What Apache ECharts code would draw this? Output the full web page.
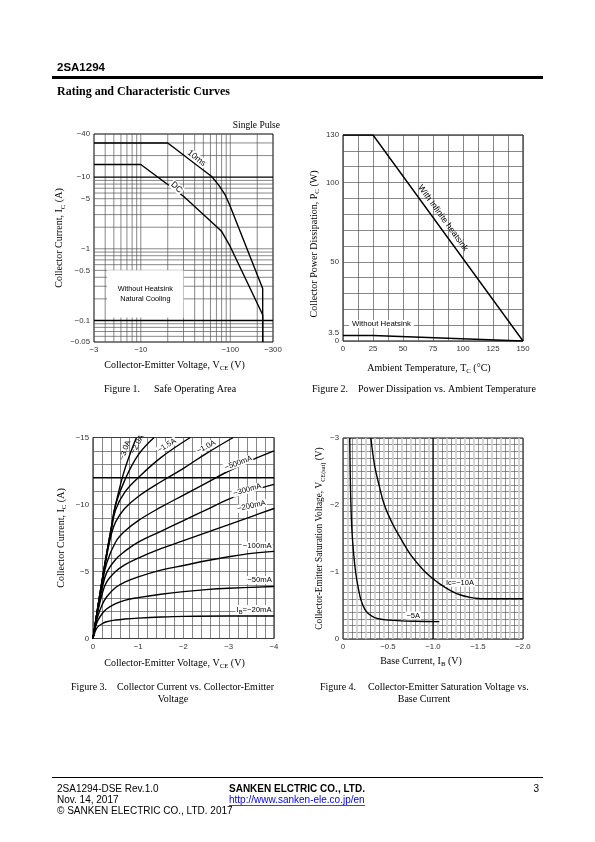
<!DOCTYPE html>
<html>
<head>
<meta charset="utf-8">
<script src="https://cdn.jsdelivr.net/npm/echarts@6.0.0/dist/echarts.min.js"></script>
<style>
html,body{margin:0;padding:0;background:#fff;}
#chart{width:595px;height:842px;}
</style>
</head>
<body>
<div id="chart"></div>
<script>
// ---------------- Figure 1: Safe Operating Area (magnitudes; axis labels show the minus sign) ----------------
const soaTicksX = [3, 10, 100, 300];
const soaTicksY = [0.05, 0.1, 0.5, 1, 5, 10, 40];
const soaGridX = [4, 5, 6, 7, 8, 9, 10, 20, 30, 40, 50, 60, 70, 80, 90, 100, 200];
const soaGridY = [0.06, 0.07, 0.08, 0.09, 0.2, 0.3, 0.4, 0.5, 0.6, 0.7, 0.8, 0.9, 1, 2, 3, 4, 5, 6, 7, 8, 9, 20, 30];
const soaGridYBold = [0.1, 10];
const soa10msVce = [3, 20, 62, 75, 88, 100, 230, 230];
const soa10msIc  = [30, 30, 10.2, 7.6, 5.6, 3.9, 0.28, 0.05];
const soaDcVce = [3, 10, 30, 70, 80, 100, 230, 230];
const soaDcIc  = [15, 15, 5.4, 2.05, 1.75, 1.07, 0.12, 0.05];

// ---------------- Figure 2: Power dissipation vs ambient temperature ----------------
const pdTicksX = [0, 25, 50, 75, 100, 125, 150];
const pdTicksY = [0, 3.5, 50, 100, 130];
const pdTemp = [0, 25, 150];
const pdInfinite = [130, 130, 0];
const pdNoSink = [3.5, 3.5, 0];

// ---------------- Figure 3: IC vs VCE  ([VCE (V), IC (A)]) ----------------
const ivTicksX = [0, -1, -2, -3, -4];
const ivTicksY = [0, -5, -10, -15];
const ib20mA = [[0,0],[-0.05,-0.55],[-0.1,-0.85],[-0.2,-1.1],[-0.3,-1.25],[-0.5,-1.38],[-0.7,-1.45],[-1,-1.52],[-1.5,-1.6],[-2,-1.65],[-3,-1.68],[-4,-1.68]];
const ib50mA = [[0,0],[-0.05,-0.8],[-0.1,-1.3],[-0.2,-1.85],[-0.3,-2.2],[-0.5,-2.6],[-0.7,-2.85],[-1,-3.05],[-1.5,-3.3],[-2,-3.5],[-2.5,-3.65],[-3,-3.75],[-4,-3.88]];
const ib100mA = [[0,0],[-0.05,-0.9],[-0.1,-1.6],[-0.2,-2.5],[-0.3,-3.1],[-0.5,-3.8],[-0.7,-4.2],[-1,-4.6],[-1.5,-5.1],[-2,-5.45],[-2.5,-5.8],[-3,-6.1],[-3.5,-6.35],[-4,-6.5]];
const ib200mA = [[0,0],[-0.05,-1.0],[-0.1,-1.9],[-0.2,-3.3],[-0.3,-4.2],[-0.5,-5.0],[-0.7,-5.5],[-1,-6.0],[-1.5,-6.7],[-2,-7.3],[-2.5,-7.9],[-3,-8.5],[-3.5,-9.1],[-4,-9.7]];
const ib300mA = [[0,0],[-0.05,-1.05],[-0.1,-2.0],[-0.2,-3.7],[-0.3,-4.9],[-0.5,-5.9],[-0.7,-6.5],[-1,-7.2],[-1.5,-8.0],[-2,-8.8],[-2.5,-9.6],[-3,-10.4],[-3.5,-11.0],[-4,-11.5]];
const ib500mA = [[0,0],[-0.05,-1.1],[-0.1,-2.1],[-0.2,-4.0],[-0.3,-5.6],[-0.5,-7.2],[-0.7,-8.0],[-1,-8.8],[-1.5,-9.8],[-2,-10.7],[-2.5,-11.6],[-3,-12.5],[-3.5,-13.3],[-4,-14.0]];
const ib1000mA = [[0,0],[-0.05,-1.1],[-0.1,-2.2],[-0.2,-4.2],[-0.3,-6.1],[-0.4,-7.7],[-0.5,-8.7],[-0.7,-9.7],[-1,-10.6],[-1.5,-11.7],[-2,-12.7],[-2.5,-13.8],[-3.1,-15]];
const ib1500mA = [[0,0],[-0.05,-1.1],[-0.1,-2.2],[-0.2,-4.3],[-0.3,-6.3],[-0.4,-8.0],[-0.5,-9.6],[-0.7,-10.9],[-1,-12.0],[-1.5,-13.5],[-2.15,-15]];
const ib2000mA = [[0,0],[-0.05,-1.1],[-0.1,-2.2],[-0.2,-4.3],[-0.3,-6.3],[-0.4,-8.2],[-0.5,-10.0],[-0.7,-11.8],[-1,-13.7],[-1.35,-15]];
const ib3000mA = [[0,0],[-0.05,-1.1],[-0.1,-2.2],[-0.2,-4.3],[-0.3,-6.3],[-0.4,-8.2],[-0.5,-10.0],[-0.7,-12.6],[-0.96,-15]];
const ivBoldY = -12;

// ---------------- Figure 4: VCE(sat) vs IB  ([IB, VCE(sat) (V)]) ----------------
const satTicksX = [0, -0.5, -1, -1.5, -2];
const satTicksY = [0, -1, -2, -3];
const satBoldX = -1;
const ic10A = [[-0.31,-3.0],[-0.35,-2.6],[-0.4,-2.3],[-0.46,-2.0],[-0.55,-1.72],[-0.65,-1.48],[-0.75,-1.26],[-0.9,-1.02],[-1.0,-0.9],[-1.1,-0.8],[-1.2,-0.72],[-1.3,-0.66],[-1.4,-0.625],[-1.5,-0.605],[-1.7,-0.6],[-2.0,-0.6]];
const ic5A = [[-0.075,-3.0],[-0.08,-2.5],[-0.088,-2.0],[-0.1,-1.6],[-0.12,-1.25],[-0.14,-1.0],[-0.17,-0.76],[-0.2,-0.58],[-0.24,-0.45],[-0.28,-0.38],[-0.35,-0.32],[-0.45,-0.29],[-0.6,-0.275],[-0.8,-0.265],[-1.07,-0.26]];

// ---------------- styling helpers ----------------
const SERIF = '"Liberation Serif","Times New Roman",serif';
const SANS = '"Liberation Sans",Arial,Helvetica,sans-serif';
const MINUS = '\u2212';
const TICK_FS = 7.8;
const negLabel = v => { const n = +(+v).toPrecision(4); return n === 0 ? '0' : MINUS + Math.abs(n); };
const negFixed1 = v => { const n = +(+v).toPrecision(4); return n === 0 ? '0' : MINUS + Math.abs(n).toFixed(1); };
const pdYLabel = v => { const n = +(+v).toPrecision(4); return n === 3.5 ? '{u|3.5}' : String(n); };
const plainLabel = v => String(+(+v).toPrecision(4));

function axName(main, sub, tail) { return '{a|' + main + '}{s|' + sub + '}{a|' + tail + '}'; }
function nameStyle(size, padding) {
  return {
    fontFamily: SERIF, fontSize: size, color: '#000', padding: padding || 0,
    rich: {
      a: { fontFamily: SERIF, fontSize: size, color: '#000', lineHeight: size + 3, verticalAlign: 'middle' },
      s: { fontFamily: SERIF, fontSize: size * 0.68, color: '#000', lineHeight: size + 3, verticalAlign: 'bottom' }
    }
  };
}
const gridLineStyle = { color: '#555', width: 0.7 };
function axis(o) {
  return Object.assign({
    axisLine: { show: false },
    axisTick: { show: false },
    nameLocation: 'middle',
    splitLine: { show: true, lineStyle: gridLineStyle }
  }, o);
}
function labels(values, fmt, extra) {
  return Object.assign({ customValues: values, formatter: fmt, fontFamily: SANS, fontSize: TICK_FS, color: '#333', margin: 4, hideOverlap: false }, extra || {});
}
function tag(coord, text, rotate, extra) {
  return {
    coord: coord, symbol: 'circle', symbolSize: 0, itemStyle: { color: 'transparent' },
    label: Object.assign({
      show: true, position: 'inside', formatter: text, rotate: rotate || 0,
      fontFamily: SANS, fontSize: 7.7, color: '#000', backgroundColor: '#fff', padding: [0, 1, 0, 1]
    }, extra || {})
  };
}
function curve(name, data, xi, extra) {
  return Object.assign({
    type: 'line', name: name, data: data, xAxisIndex: xi, yAxisIndex: xi,
    symbol: 'none', silent: true, z: 3,
    lineStyle: { color: '#000', width: 1.4 }
  }, extra || {});
}
const zip = (xs, ys) => xs.map((x, i) => [x, ys[i]]);

// grid lines for the log-log chart (broken with '-' between segments)
const soaXMin = 3, soaXMax = 300, soaYMin = 0.05, soaYMax = 40;
const soaGridData = [];
soaGridX.forEach(v => soaGridData.push([v, soaYMin], [v, soaYMax], ['-', '-']));
soaGridY.forEach(v => soaGridData.push([soaXMin, v], [soaXMax, v], ['-', '-']));
const soaBoldData = [];
soaGridYBold.forEach(v => soaBoldData.push([soaXMin, v], [soaXMax, v], ['-', '-']));

const capFont = '10px ' + SERIF;
function txt(x, y, text, font, align, fill) {
  return { type: 'text', x: x, y: y, style: { text: text, font: font, fill: fill || '#000', align: align || 'left', verticalAlign: 'middle' } };
}

const option = {
  animation: false,
  backgroundColor: '#fff',
  grid: [
    { left: 94, top: 134, width: 179, height: 208, show: true, borderColor: '#000', borderWidth: 1, backgroundColor: 'transparent' },
    { left: 343, top: 135, width: 180, height: 206, show: true, borderColor: '#000', borderWidth: 1, backgroundColor: 'transparent' },
    { left: 93, top: 437.5, width: 181, height: 201, show: true, borderColor: '#000', borderWidth: 1, backgroundColor: 'transparent' },
    { left: 343, top: 438, width: 180, height: 201, show: true, borderColor: '#000', borderWidth: 1, backgroundColor: 'transparent' }
  ],
  xAxis: [
    axis({ gridIndex: 0, type: 'log', logBase: 10, min: soaXMin, max: soaXMax, splitLine: { show: false },
      axisLabel: labels(soaTicksX, negLabel),
      name: axName('Collector-Emitter Voltage, V', 'CE', ' (V)'), nameGap: 17, nameTextStyle: nameStyle(10, [0, 18, 0, 0]) }),
    axis({ gridIndex: 1, type: 'value', min: 0, max: 150, interval: 12.5,
      axisLabel: labels(pdTicksX, plainLabel),
      name: axName('Ambient Temperature, T', 'C', ' (\u00B0C)'), nameGap: 21, nameTextStyle: nameStyle(10, [0, 8, 0, 0]) }),
    axis({ gridIndex: 2, type: 'value', min: -4, max: 0, interval: 0.2, inverse: true,
      axisLabel: labels(ivTicksX, negLabel),
      name: axName('Collector-Emitter Voltage, V', 'CE', ' (V)'), nameGap: 18, nameTextStyle: nameStyle(10, [0, 18, 0, 0]) }),
    axis({ gridIndex: 3, type: 'value', min: -2, max: 0, interval: 0.1, inverse: true,
      minorTick: { show: false, splitNumber: 2 },
      minorSplitLine: { show: true, lineStyle: { color: '#cccccc', width: 1.6 } },
      splitLine: { show: true, lineStyle: { color: '#555', width: 0.65 } },
      axisLabel: labels(satTicksX, negFixed1),
      name: axName('Base Current, I', 'B', ' (V)'), nameGap: 16, nameTextStyle: nameStyle(10, [0, 24, 0, 0]) })
  ],
  yAxis: [
    axis({ gridIndex: 0, type: 'log', logBase: 10, min: soaYMin, max: soaYMax, splitLine: { show: false },
      axisLabel: labels(soaTicksY, negLabel),
      name: axName('Collector Current, I', 'C', ' (A)'), nameGap: 25, nameTextStyle: nameStyle(10) }),
    axis({ gridIndex: 1, type: 'value', min: 0, max: 130, interval: 10,
      axisLabel: labels(pdTicksY, pdYLabel, { rich: { u: { fontFamily: SANS, fontSize: TICK_FS, color: '#333', padding: [0, 0, 6, 0] } } }),
      name: axName('Collector Power Dissipation, P', 'C', ' (W)'), nameGap: 22, nameTextStyle: nameStyle(10, [0, 12, 0, 0]) }),
    axis({ gridIndex: 2, type: 'value', min: -15, max: 0, interval: 1, inverse: true,
      axisLabel: labels(ivTicksY, negLabel),
      name: axName('Collector Current, I', 'C', ' (A)'), nameGap: 25, nameTextStyle: nameStyle(10) }),
    axis({ gridIndex: 3, type: 'value', min: -3, max: 0, interval: 0.1, inverse: true,
      splitLine: { show: true, lineStyle: { color: '#555', width: 0.65 } },
      axisLabel: labels(satTicksY, negLabel),
      name: axName('Collector-Emitter Saturation Voltage, V', 'CE(sat)', ' (V)'), nameGap: 17, nameTextStyle: nameStyle(9.3) })
  ],
  series: [
    // Figure 1 grid
    { type: 'line', data: soaGridData, xAxisIndex: 0, yAxisIndex: 0, symbol: 'none', silent: true, z: 0,
      connectNulls: false, lineStyle: gridLineStyle,
      markArea: { silent: true, itemStyle: { color: '#fff' },
        label: { show: true, position: 'inside', formatter: 'Without Heatsink\nNatural Cooling',
          fontFamily: SANS, fontSize: 7.3, color: '#000', lineHeight: 10 },
        data: [[{ coord: [4.2, 0.5] }, { coord: [30, 0.11] }]] } },
    { type: 'line', data: soaBoldData, xAxisIndex: 0, yAxisIndex: 0, symbol: 'none', silent: true, z: 1,
      connectNulls: false, lineStyle: { color: '#000', width: 1.4 } },
    curve('10ms', zip(soa10msVce, soa10msIc), 0, { markPoint: { silent: true, data: [tag([42, 18.4], '10ms', -38, { fontSize: 8.5 })] } }),
    curve('DC', zip(soaDcVce, soaDcIc), 0, { markPoint: { silent: true, data: [tag([25.1, 7.2], 'DC', -41, { fontSize: 8.5 })] } }),
    // Figure 2
    curve('With Infinite heatsink', zip(pdTemp, pdInfinite), 1, { markPoint: { silent: true, data: [tag([83.3, 77.6], 'With Infinite heatsink', -54, { backgroundColor: 'transparent', fontSize: 8.6 })] } }),
    curve('Without Heatsink', zip(pdTemp, pdNoSink), 1, { markPoint: { silent: true, data: [tag([32, 10.8], 'Without Heatsink', 0, { padding: [0, 3, 0, 3], fontSize: 7.8 })] } }),
    // Figure 3
    { type: 'line', data: [[0, ivBoldY], [-4, ivBoldY]], xAxisIndex: 2, yAxisIndex: 2, symbol: 'none', silent: true, z: 1,
      lineStyle: { color: '#000', width: 1.4 } },
    curve('-20mA', ib20mA, 2, { smooth: 0.4, markPoint: { silent: true, data: [tag([-3.56, -2.13], '{a|I}{s|B}{a|=\u221220mA}', 0, { rich: { a: { fontFamily: SANS, fontSize: 7.7 }, s: { fontFamily: SANS, fontSize: 5.8, verticalAlign: 'bottom', lineHeight: 10 } } })] } }),
    curve('-50mA', ib50mA, 2, { smooth: 0.4, markPoint: { silent: true, data: [tag([-3.68, -4.36], '\u221250mA', 0)] } }),
    curve('-100mA', ib100mA, 2, { smooth: 0.4, markPoint: { silent: true, data: [tag([-3.63, -6.93], '\u2212100mA', 0)] } }),
    curve('-200mA', ib200mA, 2, { smooth: 0.4, markPoint: { silent: true, data: [tag([-3.5, -9.9], '\u2212200mA', 12)] } }),
    curve('-300mA', ib300mA, 2, { smooth: 0.4, markPoint: { silent: true, data: [tag([-3.41, -11.1], '\u2212300mA', 16)] } }),
    curve('-500mA', ib500mA, 2, { smooth: 0.4, markPoint: { silent: true, data: [tag([-3.21, -13.1], '\u2212500mA', 20)] } }),
    curve('-1.0A', ib1000mA, 2, { smooth: 0.4, markPoint: { silent: true, data: [tag([-2.5, -14.3], '\u22121.0A', 28)] } }),
    curve('-1.5A', ib1500mA, 2, { smooth: 0.4, markPoint: { silent: true, data: [tag([-1.63, -14.4], '\u22121.5A', 32)] } }),
    curve('-2.0A', ib2000mA, 2, { smooth: 0.4, markPoint: { silent: true, data: [tag([-0.98, -14.5], '\u22122.0A', 63, { backgroundColor: 'transparent' })] } }),
    curve('-3.0A', ib3000mA, 2, { smooth: 0.4, markPoint: { silent: true, data: [tag([-0.71, -14.05], '\u22123.0A', 70, { backgroundColor: 'transparent' })] } }),
    // Figure 4
    { type: 'line', data: [[satBoldX, 0], [satBoldX, -3]], xAxisIndex: 3, yAxisIndex: 3, symbol: 'none', silent: true, z: 1,
      lineStyle: { color: '#000', width: 1.2 } },
    curve('IC=-10A', ic10A, 3, { smooth: 0.4, markPoint: { silent: true, data: [tag([-1.3, -0.84], 'Ic=\u221210A', 0, { fontSize: 7.5 })] } }),
    curve('IC=-5A', ic5A, 3, { smooth: 0.4, markPoint: { silent: true, data: [tag([-0.78, -0.35], '\u22125A', 0, { fontSize: 7.5 })] } })
  ],
  graphic: [
    txt(57, 68, '2SA1294', 'bold 11.5px ' + SANS),
    { type: 'rect', shape: { x: 52, y: 76, width: 491, height: 3 }, style: { fill: '#000' } },
    txt(57, 92, 'Rating and Characteristic Curves', 'bold 12px ' + SERIF),
    txt(280, 125, 'Single Pulse', '9.5px ' + SERIF, 'right'),
    txt(104, 389, 'Figure 1.', capFont),
    txt(154, 389, 'Safe Operating Area', capFont),
    txt(312, 389, 'Figure 2.', capFont),
    txt(358, 389, 'Power Dissipation vs. Ambient Temperature', capFont),
    txt(71, 687, 'Figure 3.', capFont),
    txt(117, 687, 'Collector Current vs. Collector-Emitter', capFont),
    txt(173, 699, 'Voltage', capFont, 'center'),
    txt(320, 687, 'Figure 4.', capFont),
    txt(368, 687, 'Collector-Emitter Saturation Voltage vs.', capFont),
    txt(424, 699, 'Base Current', capFont, 'center'),
    { type: 'rect', shape: { x: 52, y: 777, width: 491, height: 1 }, style: { fill: '#000' } },
    txt(57, 789, '2SA1294-DSE Rev.1.0', '10px ' + SANS),
    txt(57, 800, 'Nov. 14, 2017', '10px ' + SANS),
    txt(57, 811, '\u00A9 SANKEN ELECTRIC CO., LTD. 2017', '10px ' + SANS),
    txt(229, 789, 'SANKEN ELCTRIC CO., LTD.', 'bold 10px ' + SANS),
    txt(229, 800, 'http://www.sanken-ele.co.jp/en', '10px ' + SANS, 'left', '#0000ee'),
    { type: 'rect', shape: { x: 229, y: 805, width: 136, height: 0.8 }, style: { fill: '#0000ee' } },
    txt(539, 789, '3', '10px ' + SANS, 'right')
  ]
};

const chart = echarts.init(document.getElementById('chart'), null, { renderer: 'canvas', width: 595, height: 842 });
chart.setOption(option);
</script>
</body>
</html>
